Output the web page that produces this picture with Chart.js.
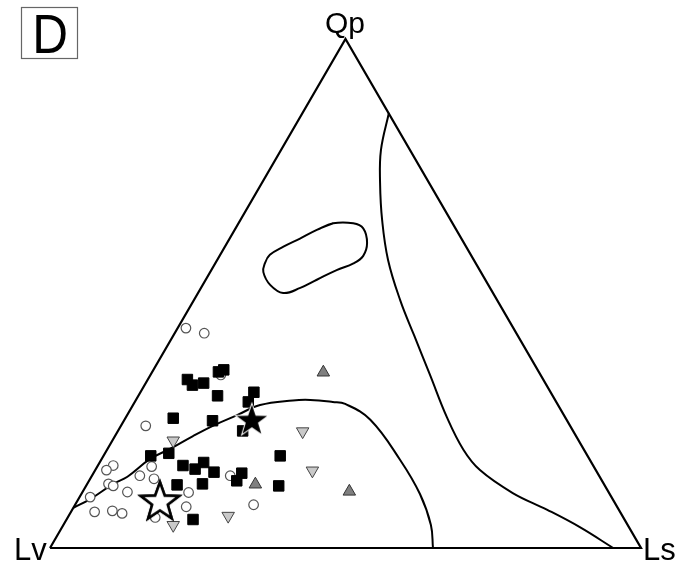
<!DOCTYPE html>
<html>
<head>
<meta charset="utf-8">
<script src="https://cdn.jsdelivr.net/npm/chart.js@4.4.1/dist/chart.umd.min.js"></script>
<style>
  html, body { margin: 0; padding: 0; background: #fff; }
  #wrap { width: 690px; height: 566px; }
</style>
</head>
<body>
<div id="wrap"><canvas id="c" width="690" height="566"></canvas></div>
<script>
// Ternary plot Qp - Lv - Ls. Every sample is [Qp, Ls] in percent; Lv = 100 - Qp - Ls.
const panelLetter = 'D';
const apexLabels = { top: 'Qp', left: 'Lv', right: 'Ls' };

// Corners of the diagram: Lv, Ls, Qp
const frameCorners = [[0, 0], [0, 100], [100, 0], [0, 0]];

const openCircles = [
  [43.2, 1.4], [42.2, 5.0], [34.0, 11.9], [24.0, 4.2], [16.2, 2.6], [15.3, 1.9],
  [16.0, 9.2], [12.6, 3.6], [12.2, 4.6], [14.2, 8.1], [13.6, 10.8], [10.0, 1.8],
  [11.0, 7.6], [7.1, 4.0], [7.3, 6.9], [6.8, 8.8], [6.0, 14.8], [10.9, 18.0],
  [8.1, 19.0], [14.2, 23.4], [8.5, 30.2]
];

const blackSquares = [
  [33.1, 6.7], [32.0, 8.1], [32.4, 9.8], [34.6, 11.2], [35.0, 11.9], [29.9, 13.4],
  [30.6, 19.2], [28.7, 19.2], [25.5, 8.1], [25.0, 15.0], [23.0, 21.1], [18.1, 8.0],
  [18.6, 10.8], [16.2, 14.4], [15.5, 16.8], [16.8, 17.6], [14.9, 20.3], [12.6, 19.5],
  [12.4, 15.3], [14.7, 25.1], [13.2, 25.0], [18.1, 29.9], [12.2, 32.6], [5.6, 21.4]
];

const grayTrianglesUp = [[34.5, 29.0], [12.5, 28.5], [11.1, 45.1]];

const lightTrianglesDown = [[21.1, 10.3], [22.9, 31.3], [15.2, 36.8], [6.3, 27.0], [4.5, 18.6]];

const blackStar = [[25.3, 21.5]];
const openStar = [[9.4, 13.9]];

// Field boundaries
const lowerBoundary = [
  [7.9, 0.0], [9.6, 2.0], [12.6, 4.4], [14.0, 6.1], [17.5, 8.2], [19.5, 10.6],
  [22.0, 13.2], [24.2, 15.8], [26.1, 18.6], [28.1, 21.5], [29.0, 26.6], [29.1, 29.5],
  [28.7, 33.5], [28.3, 35.8], [25.2, 41.6], [17.3, 50.6], [10.6, 57.3], [4.5, 62.2],
  [0.0, 64.8]
];

const rightBoundary = [
  [85.5, 14.6], [78.2, 16.9], [71.7, 20.0], [64.4, 24.0], [56.6, 28.9], [48.7, 34.9],
  [41.8, 40.7], [34.0, 47.3], [25.7, 54.3], [19.3, 60.3], [15.3, 65.1], [10.8, 72.9],
  [7.5, 80.4], [4.1, 87.6], [0.0, 95.3]
];

// Closed field; the first two vertices are repeated at the end so the outline closes smoothly
const closedField = [
  [63.8, 16.0], [62.5, 13.9], [60.8, 11.9], [59.2, 9.9], [57.6, 8.4], [55.9, 8.4],
  [54.2, 9.0], [51.7, 11.4], [50.1, 14.4], [51.1, 16.8], [52.7, 18.8], [54.6, 21.2],
  [55.9, 23.4], [57.4, 24.3], [59.9, 23.7], [62.8, 21.6], [63.8, 19.4], [63.8, 16.0],
  [62.5, 13.9]
];

const SIN60 = Math.sqrt(3) / 2;
function toXY(list) {
  return list.map(([qp, ls]) => ({ x: ls + qp / 2, y: qp * SIN60 }));
}

function makeStar(outer, inner, fill, stroke, lw) {
  const pad = Math.ceil(lw) + 2;
  const size = Math.ceil(outer * 2 + pad * 2);
  const cv = document.createElement('canvas');
  cv.width = size; cv.height = size;
  const g = cv.getContext('2d');
  const c = size / 2;
  g.beginPath();
  for (let i = 0; i < 10; i++) {
    const r = i % 2 === 0 ? outer : inner;
    const a = -Math.PI / 2 + i * Math.PI / 5;
    const px = c + r * Math.cos(a), py = c + r * Math.sin(a) + outer * 0.1;
    if (i === 0) g.moveTo(px, py); else g.lineTo(px, py);
  }
  g.closePath();
  g.lineJoin = 'miter';
  g.lineWidth = lw;
  g.strokeStyle = stroke;
  g.stroke();
  g.fillStyle = fill;
  g.fill();
  if (fill === '#ffffff') { g.stroke(); }
  return cv;
}

const blackStarImg = makeStar(16, 6.4, '#000000', '#ffffff', 2);
const openStarImg = makeStar(20, 8.2, '#ffffff', '#000000', 2.6);

function lineSet(pts, tension) {
  return {
    data: toXY(pts), showLine: true, pointRadius: 0, borderColor: '#000',
    borderWidth: 2, tension: tension, fill: false, clip: false
  };
}

const textPlugin = {
  id: 'labels',
  afterDraw(chart) {
    const ctx = chart.ctx;
    ctx.save();
    ctx.fillStyle = '#000';
    ctx.font = '30px "Liberation Sans", Arial, sans-serif';
    ctx.textBaseline = 'alphabetic';
    ctx.textAlign = 'center';
    ctx.fillText(apexLabels.top, 345, 33);
    ctx.textAlign = 'left';
    ctx.font = '31px "Liberation Sans", Arial, sans-serif';
    ctx.fillText(apexLabels.left, 14, 560);
    ctx.fillText(apexLabels.right, 643, 560);
    // panel letter in a box
    ctx.strokeStyle = '#666';
    ctx.lineWidth = 1.2;
    ctx.strokeRect(21.5, 7.5, 56, 51);
    ctx.save();
    ctx.translate(50, 53);
    ctx.scale(0.9, 1);
    ctx.textAlign = 'center';
    ctx.font = '55px "Liberation Sans", Arial, sans-serif';
    ctx.fillText(panelLetter, 0, 0);
    ctx.restore();
    ctx.restore();
  }
};

new Chart(document.getElementById('c'), {
  type: 'scatter',
  data: {
    datasets: [
      { data: toXY(blackStar), pointStyle: blackStarImg, pointRadius: 10, clip: false },
      { data: toXY(openStar), pointStyle: openStarImg, pointRadius: 10, clip: false },
      { data: toXY(blackSquares), pointStyle: 'rect', pointRadius: 7.4,
        backgroundColor: '#000', borderColor: '#000', borderWidth: 1, clip: false },
      { data: toXY(grayTrianglesUp), pointStyle: 'triangle', pointRadius: 7.2,
        backgroundColor: '#7f7f7f', borderColor: '#333', borderWidth: 1, clip: false },
      { data: toXY(lightTrianglesDown), pointStyle: 'triangle', rotation: 180, pointRadius: 7.2,
        backgroundColor: '#c9c9c9', borderColor: '#444', borderWidth: 1, clip: false },
      { data: toXY(openCircles), pointStyle: 'circle', pointRadius: 4.8,
        backgroundColor: '#fff', borderColor: '#555', borderWidth: 1.2, clip: false },
      lineSet(lowerBoundary, 0.4),
      lineSet(rightBoundary, 0.4),
      lineSet(closedField, 0.4),
      Object.assign(lineSet(frameCorners, 0), { borderJoinStyle: 'miter', borderWidth: 2.2 })
    ]
  },
  options: {
    responsive: false,
    animation: false,
    events: [],
    layout: { padding: { left: 50, right: 49, top: 39, bottom: 18 } },
    plugins: { legend: { display: false }, tooltip: { enabled: false } },
    scales: {
      x: { type: 'linear', min: 0, max: 100, display: false },
      y: { type: 'linear', min: 0, max: 100 * SIN60, display: false }
    }
  },
  plugins: [textPlugin]
});
</script>
</body>
</html>
